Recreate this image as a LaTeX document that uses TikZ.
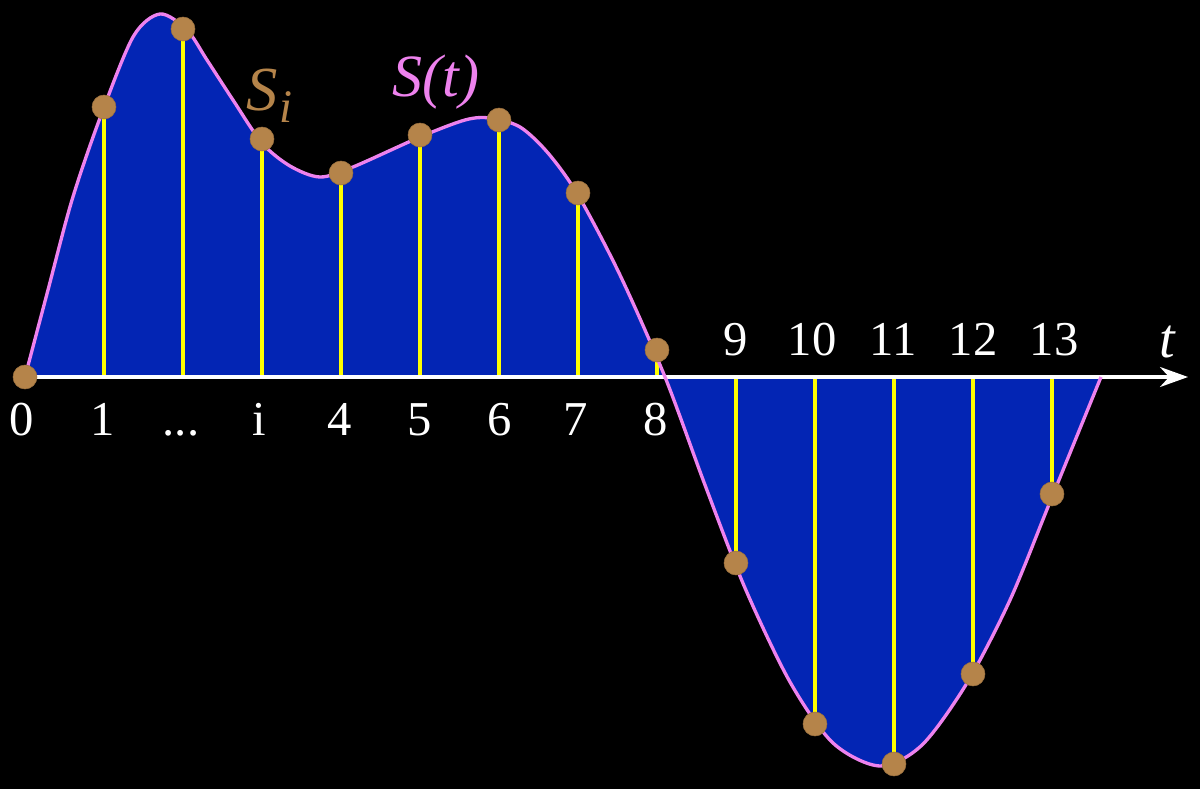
\documentclass[tikz,border=0pt]{standalone}
\usepackage{fontspec}
\setmainfont{Liberation Serif}
\usetikzlibrary{arrows.meta}
\definecolor{areablue}{RGB}{3,37,180}
\definecolor{curvepink}{RGB}{238,130,238}
\definecolor{dotbrown}{RGB}{181,132,74}
\definecolor{stemyellow}{RGB}{255,255,0}
\begin{document}
\begin{tikzpicture}[x=0.75pt,y=-0.75pt,
  sample/.style={circle,fill=dotbrown,draw=dotbrown!85!black,line width=0.4pt,minimum size=18pt,inner sep=0pt},
  stem/.style={draw=stemyellow,line width=2.8pt},
  axisline/.style={draw=white,line width=2.4pt,-{Stealth[length=21pt,width=15pt]}},
  curveline/.style={draw=curvepink,line width=2.5pt},
  ticklab/.style={text=white,anchor=base,inner sep=0pt,font=\fontsize{36.5}{40}\selectfont},
]
\useasboundingbox (0,0) rectangle (1200,789);
\fill[black] (0,0) rectangle (1200,789);

\def\curvepath{(25,377) (48,290) (72,200) (100,118) (133,37) (160,14) (187,30) (207,60) (233,100) (262,143) (290,166) (320,177) (353,167) (420,137) (465,120) (490,118) (520,127) (548,153) (578,195) (620,275) (665,377) (705,485) (745,588) (790,682) (833,743) (880,766) (922,745) (967,683) (1010,600) (1050,502) (1101,377)}

% filled area
\fill[areablue] plot[smooth,tension=0.5] coordinates {\curvepath} -- cycle;

% axis coordinates
\foreach \i/\x in {1/104,2/183,3/262,4/341,5/420,6/499,7/578,8/657,9/736,10/815,11/894,12/973,13/1052}{
  \coordinate (a\i) at (\x,377);
}
\coordinate (a0) at (25,377);
\coordinate (axend) at (1188,377);

% sample point positions
\coordinate (p0) at (25,377);
\coordinate (p1) at (104,107);
\coordinate (p2) at (183,29);
\coordinate (p3) at (262,139);
\coordinate (p4) at (341,173);
\coordinate (p5) at (420,135);
\coordinate (p6) at (499,120);
\coordinate (p7) at (578,193);
\coordinate (p8) at (657,350);
\coordinate (p9) at (736,563);
\coordinate (p10) at (815,724);
\coordinate (p11) at (894,764);
\coordinate (p12) at (973,674);
\coordinate (p13) at (1052,494);

% stems
\foreach \i in {1,...,13}{ \draw[stem] (p\i) -- (a\i); }

% axis
\draw[axisline] (a0) -- (axend);

% curve
\draw[curveline] plot[smooth,tension=0.5] coordinates {\curvepath};

% sample dots
\foreach \i in {0,...,13}{ \node[sample] (s\i) at (p\i) {}; }

% labels below axis
\node[ticklab] (l0) at (22,435) {0};
\node[ticklab] (l1) at (103,435) {1};
\node[ticklab] (l2) at (181,435) {...};
\node[ticklab] (l3) at (259,435) {i};
\node[ticklab] (l4) at (340,435) {4};
\node[ticklab] (l5) at (420,435) {5};
\node[ticklab] (l6) at (500,435) {6};
\node[ticklab] (l7) at (576,435) {7};
\node[ticklab] (l8) at (656,435) {8};
% labels above axis
\node[ticklab] (l9) at (736,355) {9};
\node[ticklab] (l10) at (812,355) {10};
\node[ticklab] (l11) at (893,355) {11};
\node[ticklab] (l12) at (973,355) {12};
\node[ticklab] (l13) at (1054,355) {13};
\node[ticklab,font=\fontsize{42}{46}\selectfont\itshape] (tlab) at (1167,357) {t};

% curve labels
\node[anchor=base,inner sep=0pt,text=curvepink,font=\fontsize{45}{50}\selectfont\itshape] (stlab) at (436,96) {S(t)};
\node[anchor=base west,inner sep=0pt,text=dotbrown] (silab) at (246,110) {\fontsize{47}{50}\selectfont\itshape S\hspace{1.5pt}\raisebox{-9pt}{\fontsize{35}{40}\selectfont i}};
\end{tikzpicture}
\end{document}
